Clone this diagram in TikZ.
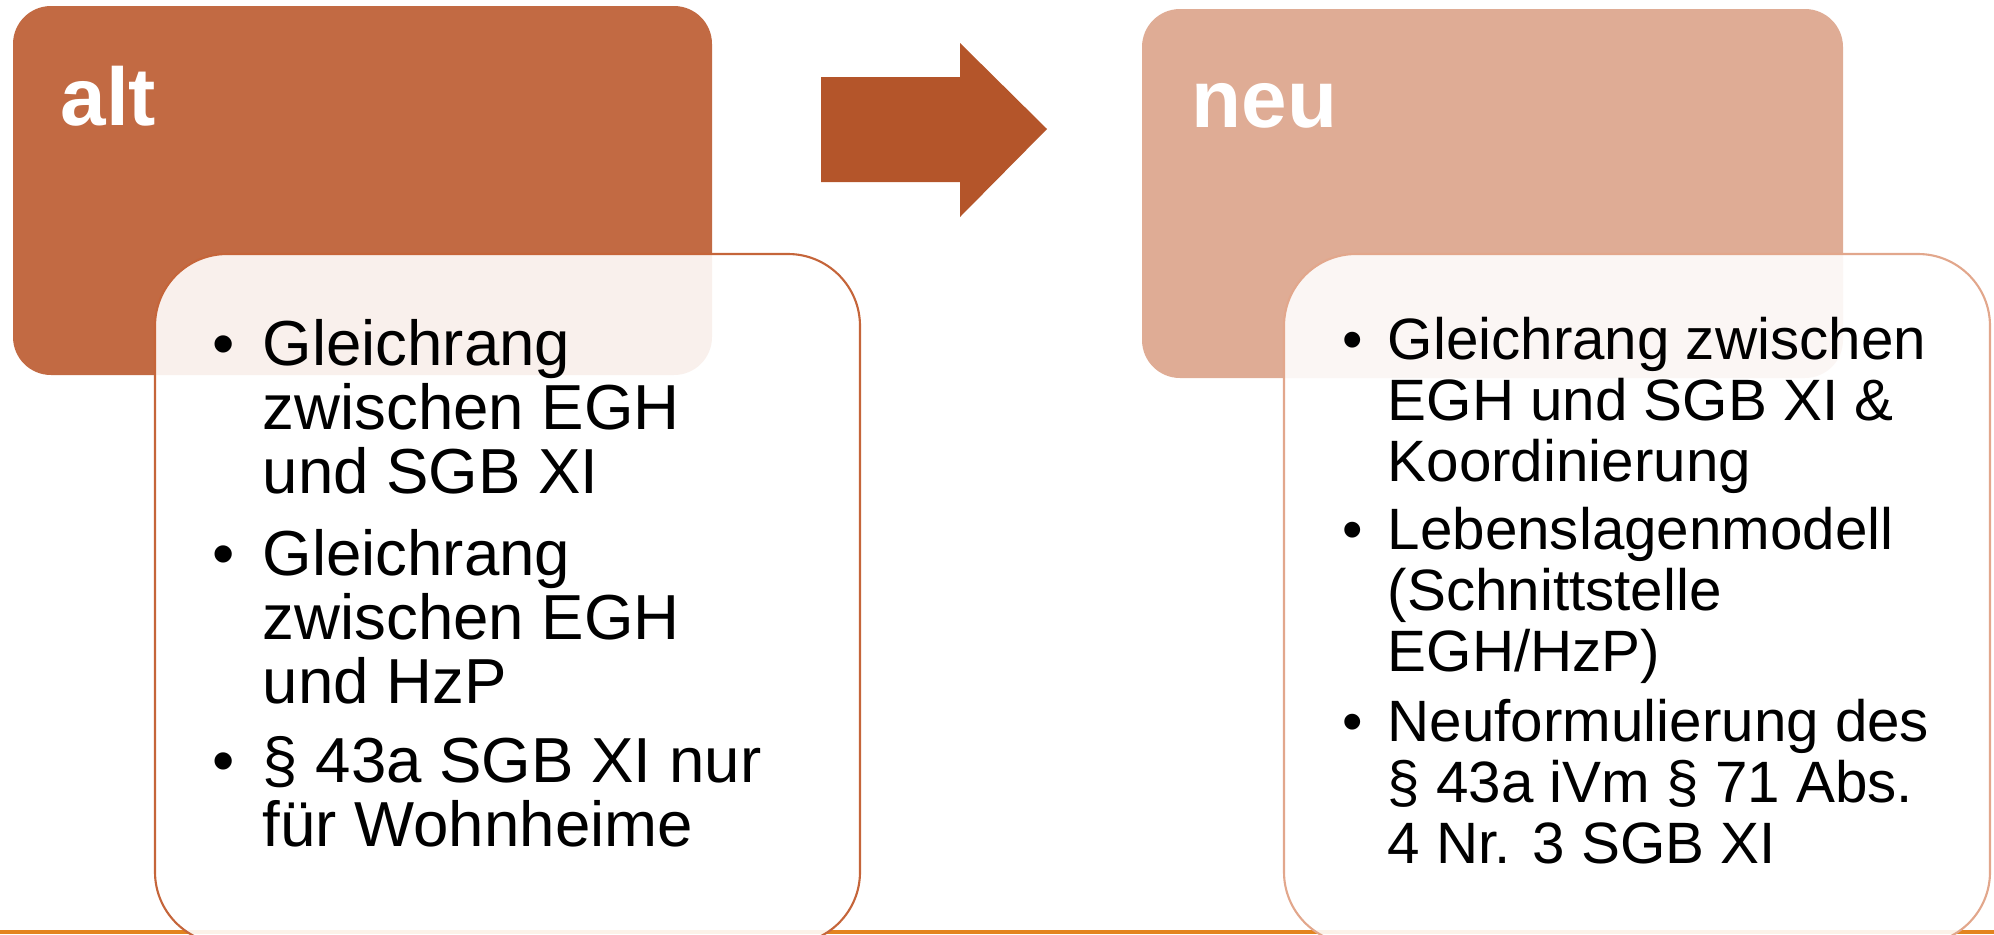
\documentclass[tikz,border=0pt]{standalone}
\usepackage{fontspec}
\setmainfont{Liberation Sans}

\definecolor{altrot}{RGB}{194,106,67}
\definecolor{neurot}{RGB}{223,172,149}
\definecolor{pfeilrot}{RGB}{180,85,42}
\definecolor{altrand}{RGB}{197,101,58}
\definecolor{neurand}{RGB}{226,167,140}
\definecolor{linie}{RGB}{227,132,30}

\newcommand{\punkt}[2]{\makebox[#1][l]{\textbullet}\parbox[t]{7cm}{#2}}

\begin{document}
\begin{tikzpicture}[
  titel/.style={anchor=base west, inner sep=0pt, text=white, font=\fontsize{23.3}{28}\selectfont\bfseries},
  liste/.style={anchor=base west, inner sep=0pt, align=left},
  textbox/.style={fill=white, fill opacity=0.9, line width=0.6pt, rounded corners=0.72cm}
]
\useasboundingbox (0,0) rectangle (19.94,9.34);

\fill[linie] (0,0) rectangle (19.94,0.04);

\fill[altrot, rounded corners=0.38cm] (0.13,5.59) rectangle (7.12,9.28);
\fill[neurot, rounded corners=0.38cm] (11.42,5.56) rectangle (18.43,9.25);

\draw[textbox, draw=altrand] (1.55,-0.10) rectangle (8.60,6.80);
\draw[textbox, draw=neurand] (12.84,-0.10) rectangle (19.90,6.80);

\fill[pfeilrot] (8.21,8.57) -- (9.60,8.57) -- (9.60,8.91) -- (10.47,8.05) -- (9.60,7.17) -- (9.60,7.52) -- (8.21,7.52) -- cycle;

\node[titel] (alt) at (0.60,8.09) {alt};
\node[titel] (neu) at (11.91,8.07) {neu};

\node[liste, font=\fontsize{18.1}{0.64cm}\selectfont] (altA) at (2.115,5.69) {\punkt{0.505cm}{Gleichrang\\zwischen EGH\\und SGB XI}};
\node[liste, font=\fontsize{18.1}{0.64cm}\selectfont] (altB) at (2.115,3.59) {\punkt{0.505cm}{Gleichrang\\zwischen EGH\\und HzP}};
\node[liste, font=\fontsize{18.1}{0.64cm}\selectfont] (altC) at (2.115,1.52) {\punkt{0.505cm}{§ 43a SGB XI nur\\für Wohnheime}};

\node[liste, font=\fontsize{16.6}{0.61cm}\selectfont] (neuA) at (13.42,5.75) {\punkt{0.45cm}{Gleichrang zwischen\\EGH und SGB XI \&\\Koordinierung}};
\node[liste, font=\fontsize{16.6}{0.61cm}\selectfont] (neuB) at (13.42,3.85) {\punkt{0.45cm}{Lebenslagenmodell\\(Schnittstelle\\EGH/HzP)}};
\node[liste, font=\fontsize{16.6}{0.61cm}\selectfont] (neuC) at (13.42,1.93) {\punkt{0.45cm}{Neuformulierung des\\§ 43a iVm § 71 Abs.\\4 Nr. 3 SGB XI}};

\end{tikzpicture}
\end{document}
